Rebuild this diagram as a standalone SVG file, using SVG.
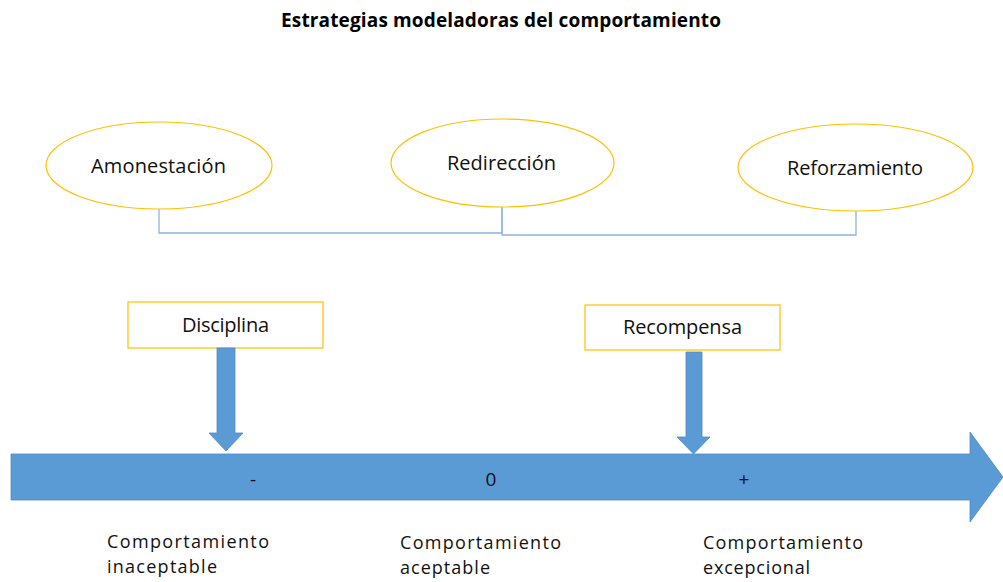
<svg xmlns="http://www.w3.org/2000/svg" width="1003" height="582" viewBox="0 0 1003 582">
<style>
.t{font-family:"Open Sans","Liberation Sans",sans-serif;fill:#111;}
.title{font-family:"Open Sans","Liberation Sans",sans-serif;font-weight:bold;font-size:19px;fill:#000;}
.ell{fill:#fff;stroke:#FFC000;stroke-width:1.2;}
.box{fill:#fff;stroke:#FFC000;stroke-width:1.2;}
.arr{fill:#5B9BD5;stroke:#4F8CC4;stroke-width:0.8;}
.con{fill:none;stroke:#8DB4E2;stroke-width:1.3;}
.lbl{font-size:18px;}
</style>
<rect width="1003" height="582" fill="#fff"/>
<text class="title" x="281" y="27" textLength="440">Estrategias modeladoras del comportamiento</text>

<g id="connectors">
<polyline class="con" points="159,209 159,233 502,233 502,207"/>
<polyline class="con" points="502,207 502,235 856,235 856,211"/>
</g>

<g id="amonestacion">
<ellipse class="ell" cx="159" cy="165.5" rx="113" ry="43.5"/>
<text class="t" x="91" y="173" font-size="20" textLength="135">Amonestación</text>
</g>
<g id="redireccion">
<ellipse class="ell" cx="502.5" cy="163" rx="111.5" ry="44"/>
<text class="t" x="447" y="170" font-size="20" textLength="109">Redirección</text>
</g>
<g id="reforzamiento">
<ellipse class="ell" cx="855.5" cy="167.5" rx="117.5" ry="43.5"/>
<text class="t" x="787" y="175" font-size="20" textLength="136">Reforzamiento</text>
</g>

<g id="disciplina">
<rect class="box" x="128" y="302" width="195" height="46"/>
<text class="t" x="182" y="332" font-size="20" textLength="87">Disciplina</text>
<polygon class="arr" points="217,348 235,348 235,433 243,433 226,451 209,433 217,433"/>
</g>
<g id="recompensa">
<rect class="box" x="585" y="305" width="195" height="45"/>
<text class="t" x="623" y="334" font-size="20" textLength="119">Recompensa</text>
<polygon class="arr" points="686,352 702,352 702,437 710,437 693.5,454 677,437 686,437"/>
</g>

<g id="eje">
<polygon class="arr" points="11,454 970,454 970,432 1003,477 970,522 970,500 11,500"/>
<text class="t" x="253" y="486" font-size="19" text-anchor="middle">-</text>
<text class="t" x="491" y="486" font-size="19" text-anchor="middle">0</text>
<text class="t" x="744" y="486" font-size="19" text-anchor="middle">+</text>
</g>

<g id="inaceptable">
<text class="t lbl" x="107" y="548" textLength="162">Comportamiento</text>
<text class="t lbl" x="107" y="573" textLength="110">inaceptable</text>
</g>
<g id="aceptable">
<text class="t lbl" x="400" y="549" textLength="161">Comportamiento</text>
<text class="t lbl" x="400" y="574" textLength="90">aceptable</text>
</g>
<g id="excepcional">
<text class="t lbl" x="703" y="549" textLength="160">Comportamiento</text>
<text class="t lbl" x="703" y="574" textLength="107">excepcional</text>
</g>
</svg>
